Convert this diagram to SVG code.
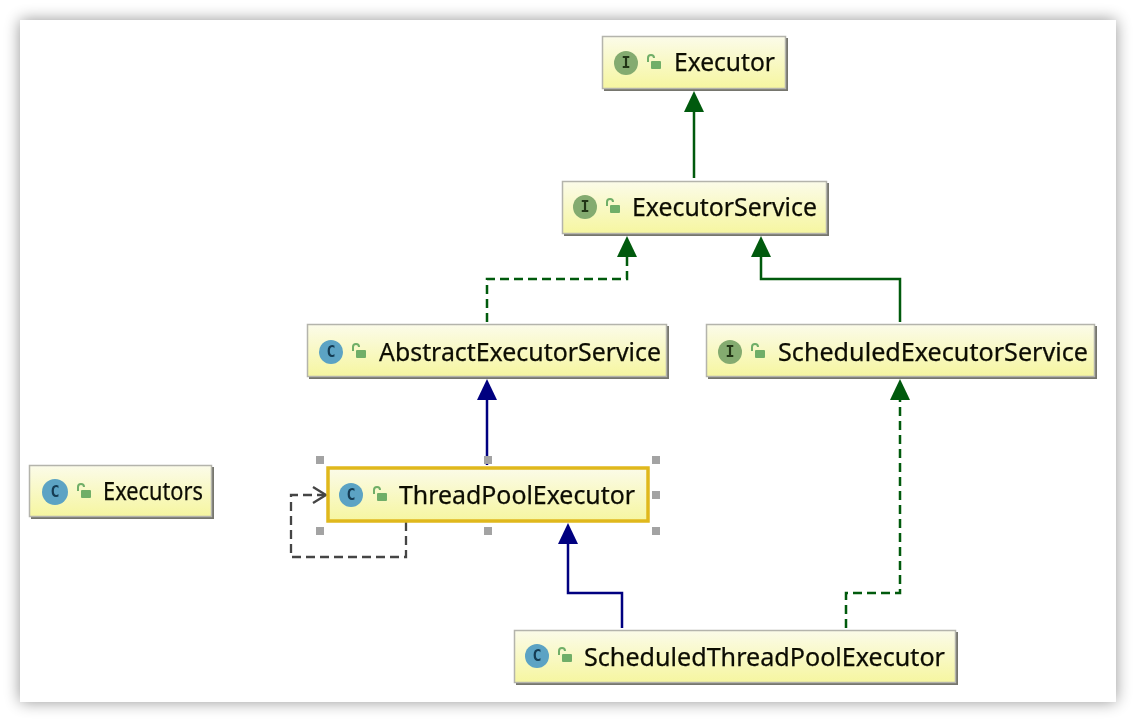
<svg xmlns="http://www.w3.org/2000/svg" width="1136" height="722" viewBox="0 0 1136 722">
<style>
.box{fill:url(#nodeFill);stroke:#b4b4ac;stroke-width:1.5}
.edge{fill:#66665e;opacity:.9}
.label{font-family:"Noto Sans","Open Sans",sans-serif;font-size:24.5px;fill:#0c0c06;stroke:#0c0c06;stroke-width:.25}
.glyph{font-family:"DejaVu Sans Mono","Liberation Mono",monospace;font-size:15px;font-weight:bold;text-anchor:middle}
.ci{fill:#5ba3c4}
.ii{fill:#84ab70}
.cg{fill:#123a52}
.ig{fill:#243519}
.lock{fill:none;stroke:#6fae67;stroke-width:2}
.lockb{fill:#6fae67}
.g{fill:none;stroke:#005a0c;stroke-width:2.5}
.gd{stroke-dasharray:9 5}
.n{fill:none;stroke:#000080;stroke-width:2.5}
.s{fill:none;stroke:#444;stroke-width:2.3;stroke-dasharray:9 5}
.h{fill:#a3a3a3}
</style>
<defs>
<linearGradient id="nodeFill" x1="0" y1="0" x2="0" y2="1"><stop offset="0" stop-color="#fbfbe9"/><stop offset="1" stop-color="#f6f6a0"/></linearGradient>
<filter id="soft" x="-5%" y="-5%" width="110%" height="110%"><feGaussianBlur stdDeviation="8"/></filter>
<filter id="video" x="-2%" y="-2%" width="104%" height="104%"><feGaussianBlur stdDeviation="0.45"/></filter>
<g id="lockIcon"><path class="lock" d="M-6-1v-4a3 3 0 0 1 6 0"/><rect class="lockb" x="-3" y="-2" width="10" height="8" rx="1"/></g>
</defs>
<rect width="1136" height="722" fill="#fff"/>
<rect x="20" y="20" width="1096" height="682" fill="#000" opacity=".42" filter="url(#soft)"/>
<rect x="20" y="20" width="1096" height="682" fill="#fff"/>

<g filter="url(#video)">
<g id="connectors">
<path class="g" d="M694 178V108"/>
<path d="M694 91l10 21h-20z" fill="#005a0c"/>
<path class="g gd" d="M487 322V279H627V255"/>
<path d="M627 236l10 21h-20z" fill="#005a0c"/>
<path class="g" d="M900 322V279H761V255"/>
<path d="M761 236l10 21h-20z" fill="#005a0c"/>
<path class="n" d="M487 465V398"/>
<path d="M487 379l10 21h-20z" fill="#000080"/>
<path class="g gd" d="M846 628V593H900V398"/>
<path d="M900 379l10 21h-20z" fill="#005a0c"/>
<path class="n" d="M622 628V593H568V542"/>
<path d="M568 523l10 21h-20z" fill="#000080"/>
<path class="s" d="M406 522V557H291V495H325"/>
<path d="M313 487l13 8-13 8" fill="none" stroke="#444" stroke-width="2.3"/>
</g>

<g id="executor">
<rect class="edge" x="604" y="38" width="184" height="53"/>
<rect class="box" x="602.500" y="36.500" width="183" height="52"/>
<circle class="ii" cx="626" cy="63" r="12"/><text class="glyph ig" x="626" y="68">I</text>
<use href="#lockIcon" x="654" y="63"/>
<text class="label" x="674" y="71" textLength="101" lengthAdjust="spacingAndGlyphs">Executor</text>
</g>

<g id="executorService">
<rect class="edge" x="564" y="183" width="265" height="53"/>
<rect class="box" x="562.500" y="181.500" width="264" height="52"/>
<circle class="ii" cx="585" cy="207" r="12"/><text class="glyph ig" x="585" y="212">I</text>
<use href="#lockIcon" x="613" y="207"/>
<text class="label" x="632" y="216" textLength="185" lengthAdjust="spacingAndGlyphs">ExecutorService</text>
</g>

<g id="abstractExecutorService">
<rect class="edge" x="309" y="326" width="360" height="53"/>
<rect class="box" x="307.500" y="324.500" width="359" height="52"/>
<circle class="ci" cx="331" cy="352" r="12"/><text class="glyph cg" x="331" y="357">C</text>
<use href="#lockIcon" x="359" y="352"/>
<text class="label" x="379" y="361" textLength="282" lengthAdjust="spacingAndGlyphs">AbstractExecutorService</text>
</g>

<g id="scheduledExecutorService">
<rect class="edge" x="708" y="326" width="389" height="53"/>
<rect class="box" x="706.500" y="324.500" width="388" height="52"/>
<circle class="ii" cx="730" cy="352" r="12"/><text class="glyph ig" x="730" y="357">I</text>
<use href="#lockIcon" x="758" y="352"/>
<text class="label" x="778" y="361" textLength="310" lengthAdjust="spacingAndGlyphs">ScheduledExecutorService</text>
</g>

<g id="executors">
<rect class="edge" x="31" y="467" width="183" height="52"/>
<rect class="box" x="29.500" y="465.500" width="182" height="51"/>
<circle class="ci" cx="55" cy="492" r="13"/><text class="glyph cg" x="55" y="497">C</text>
<use href="#lockIcon" x="84" y="492"/>
<text class="label" x="103" y="500" textLength="100" lengthAdjust="spacingAndGlyphs">Executors</text>
</g>

<g id="threadPoolExecutor">
<rect x="328" y="468" width="320" height="53" fill="url(#nodeFill)" stroke="#e0b81e" stroke-width="3.5"/>
<circle class="ci" cx="351" cy="495" r="12"/><text class="glyph cg" x="351" y="500">C</text>
<use href="#lockIcon" x="380" y="495"/>
<text class="label" x="399" y="504" textLength="236" lengthAdjust="spacingAndGlyphs">ThreadPoolExecutor</text>
<rect class="h" x="316" y="456" width="8" height="8"/>
<rect class="h" x="484" y="456" width="8" height="8"/>
<rect class="h" x="652" y="456" width="8" height="8"/>
<rect class="h" x="652" y="491" width="8" height="8"/>
<rect class="h" x="316" y="527" width="8" height="8"/>
<rect class="h" x="484" y="527" width="8" height="8"/>
<rect class="h" x="652" y="527" width="8" height="8"/>
</g>

<g id="scheduledThreadPoolExecutor">
<rect class="edge" x="516" y="632" width="442" height="53"/>
<rect class="box" x="514.500" y="630.500" width="441" height="52"/>
<circle class="ci" cx="537" cy="656" r="12"/><text class="glyph cg" x="537" y="661">C</text>
<use href="#lockIcon" x="565" y="656"/>
<text class="label" x="584" y="666" textLength="361" lengthAdjust="spacingAndGlyphs">ScheduledThreadPoolExecutor</text>
</g>
</g>
</svg>
